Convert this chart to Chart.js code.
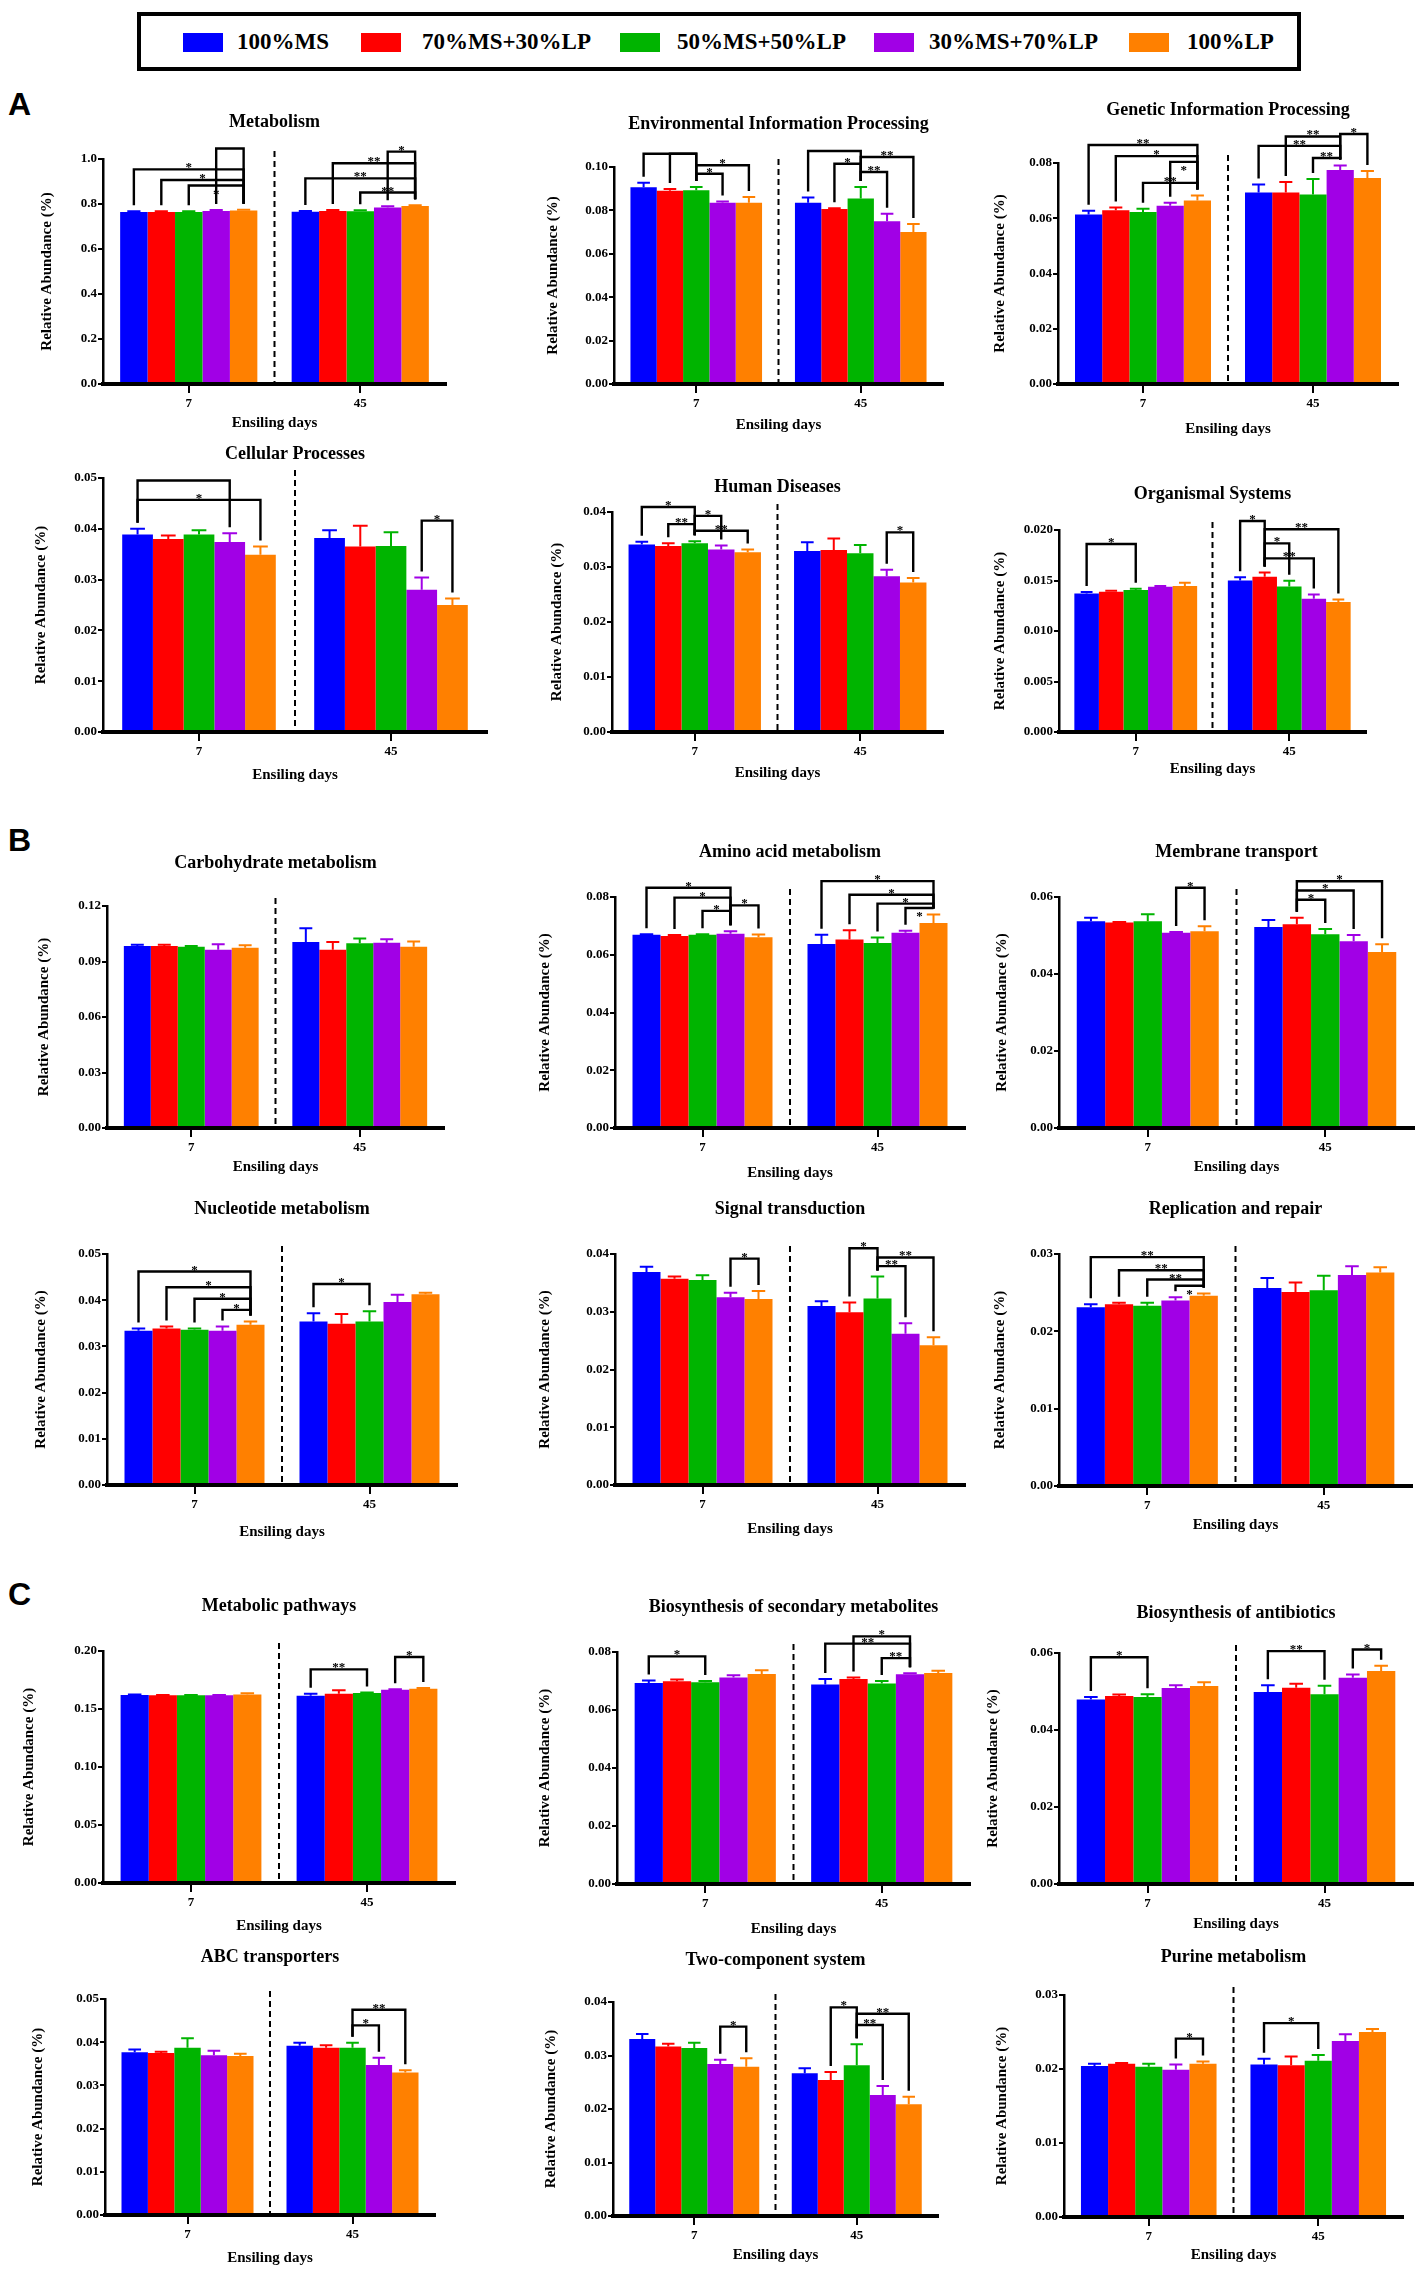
<!DOCTYPE html>
<html>
<head>
<meta charset="utf-8">
<script src="https://cdn.jsdelivr.net/npm/chart.js@4.4.1/dist/chart.umd.min.js"></script>
<style>
  body { margin: 0; width: 1421px; height: 2275px; background: #fff; position: relative; overflow: hidden;
         font-family: "Liberation Serif", "Times New Roman", serif; }
  canvas { position: absolute; }
  #legend { position: absolute; left: 137px; top: 12px; width: 1164px; height: 59px; box-sizing: border-box;
            border: 4px solid #000; }
  #legend div { position: absolute; }
  #legend span { position: absolute; top: 11px; font-weight: bold; font-size: 23px; line-height: 30px; white-space: nowrap; }
  .sec { position: absolute; left: 8px; font-family: "Liberation Sans", Arial, sans-serif; font-weight: bold;
         font-size: 32px; line-height: 32px; }
</style>
</head>
<body>
<div id="legend"></div>
<div class="sec" style="top:88px">A</div>
<div class="sec" style="top:824px">B</div>
<div class="sec" style="top:1578px">C</div>
<script>
// groups and categories
var groups = ['100%MS', '70%MS+30%LP', '50%MS+50%LP', '30%MS+70%LP', '100%LP'];
var colors = ['#0000ff', '#ff0000', '#00b400', '#a100e6', '#ff8000'];
var days = ['7', '45'];

// each panel: mean [day7, day45], SD [day7, day45], significance [day, barA, barB, level, label, labelBelow]
var metabolismMean = [[0.765, 0.765, 0.765, 0.769, 0.771], [0.766, 0.769, 0.768, 0.785, 0.791]];
var metabolismSD = [[0.003, 0.003, 0.003, 0.004, 0.004], [0.003, 0.004, 0.004, 0.005, 0.004]];
var metabolismSig = [[0, 0, 4, 0.954, '*'], [0, 1, 4, 0.907, '*'], [0, 2, 4, 0.882, '*', 1], [0, 3, 4, 1.047, ''],
  [1, 3, 4, 1.033, '*'], [1, 1, 4, 0.981, '**'], [1, 0, 4, 0.914, '**'], [1, 2, 4, 0.851, '**']];
var metabolismTicks = ['0.0', '0.2', '0.4', '0.6', '0.8', '1.0'];

var envMean = [[0.0907, 0.0891, 0.0893, 0.0835, 0.0835], [0.0835, 0.0807, 0.0855, 0.075, 0.0701]];
var envSD = [[0.002, 0.0008, 0.0015, 0.0006, 0.0027], [0.0024, 0.0003, 0.0053, 0.0034, 0.0036]];
var envSig = [[0, 0, 2, 0.1061, ''], [0, 1, 2, 0.1061, ''], [0, 2, 4, 0.1008, '*'], [0, 2, 3, 0.0969, '*'],
  [1, 0, 2, 0.1074, ''], [1, 2, 4, 0.1046, '**'], [1, 1, 2, 0.1015, '*'], [1, 2, 3, 0.0977, '**']];
var envTicks = ['0.00', '0.02', '0.04', '0.06', '0.08', '0.10'];

var geneticMean = [[0.0614, 0.0629, 0.0623, 0.0645, 0.0664], [0.0693, 0.0693, 0.0686, 0.0775, 0.0746]];
var geneticSD = [[0.0013, 0.001, 0.0011, 0.0011, 0.0018], [0.0029, 0.0038, 0.0056, 0.0016, 0.0025]];
var geneticSig = [[0, 0, 4, 0.0865, '**'], [0, 1, 4, 0.0825, '*'], [0, 3, 4, 0.0804, '*', 1], [0, 2, 4, 0.0728, '**'],
  [1, 1, 3, 0.0896, '**'], [1, 3, 4, 0.0905, '*'], [1, 0, 3, 0.0862, '**'], [1, 2, 3, 0.0818, '**']];
var geneticTicks = ['0.00', '0.02', '0.04', '0.06', '0.08'];

var cellularMean = [[0.0389, 0.038, 0.0389, 0.0374, 0.0349], [0.0382, 0.0365, 0.0366, 0.028, 0.025]];
var cellularSD = [[0.0011, 0.0007, 0.0008, 0.0017, 0.0016], [0.0015, 0.0041, 0.0027, 0.0024, 0.0013]];
var cellularSig = [[0, 0, 3, 0.0495, ''], [0, 0, 4, 0.0457, '*'], [1, 3, 4, 0.0416, '*']];
var cellularTicks = ['0.00', '0.01', '0.02', '0.03', '0.04', '0.05'];

var humanMean = [[0.0341, 0.0338, 0.0343, 0.0332, 0.0327], [0.0329, 0.0331, 0.0325, 0.0283, 0.0272]];
var humanSD = [[0.0005, 0.0005, 0.0004, 0.0007, 0.0005], [0.0016, 0.0021, 0.0015, 0.0012, 0.0008]];
var humanSig = [[0, 0, 2, 0.0409, '*'], [0, 2, 3, 0.0393, '*'], [0, 1, 2, 0.0378, '**'], [0, 2, 4, 0.0366, '**'],
  [1, 3, 4, 0.0363, '*']];
var humanTicks = ['0.00', '0.01', '0.02', '0.03', '0.04'];

var organismalMean = [[0.01372, 0.01388, 0.01405, 0.01438, 0.01445], [0.01501, 0.01537, 0.01441, 0.01319, 0.01286]];
var organismalSD = [[0.00013, 0.0001, 0.00013, 0.00007, 0.00033], [0.0003, 0.00043, 0.00057, 0.00043, 0.00026]];
var organismalSig = [[0, 0, 2, 0.01861, '*'], [1, 0, 1, 0.02089, '*'], [1, 1, 4, 0.02007, '**'],
  [1, 1, 2, 0.01868, '*'], [1, 1, 3, 0.01719, '**']];
var organismalTicks = ['0.000', '0.005', '0.010', '0.015', '0.020'];

var carbohydrateMean = [[0.0984, 0.0984, 0.098, 0.0963, 0.0975], [0.1006, 0.0963, 0.0999, 0.1002, 0.098]];
var carbohydrateSD = [[0.0006, 0.0006, 0.0004, 0.003, 0.0013], [0.0074, 0.0043, 0.0025, 0.0018, 0.0028]];
var carbohydrateSig = [];
var carbohydrateTicks = ['0.00', '0.03', '0.06', '0.09', '0.12'];

var aminoMean = [[0.0669, 0.0665, 0.0669, 0.0673, 0.0661], [0.0637, 0.0653, 0.0641, 0.0676, 0.071]];
var aminoSD = [[0.0002, 0.0003, 0.0002, 0.0008, 0.0009], [0.0032, 0.0032, 0.0019, 0.0007, 0.0029]];
var aminoSig = [[0, 0, 3, 0.0832, '*'], [0, 1, 3, 0.0798, '*'], [0, 3, 4, 0.0771, '*'], [0, 2, 3, 0.0752, '*'],
  [1, 0, 4, 0.0855, '*'], [1, 1, 4, 0.0808, '*'], [1, 2, 4, 0.0777, '*'], [1, 3, 4, 0.0762, '*', 1]];
var aminoTicks = ['0.00', '0.02', '0.04', '0.06', '0.08'];

var membraneMean = [[0.0537, 0.0534, 0.0537, 0.0507, 0.0511], [0.0522, 0.0529, 0.0503, 0.0485, 0.0457]];
var membraneSD = [[0.0009, 0.0001, 0.0018, 0.0002, 0.0013], [0.0018, 0.0017, 0.0014, 0.0016, 0.002]];
var membraneSig = [[0, 3, 4, 0.0624, '*'], [1, 1, 4, 0.0641, '*'], [1, 1, 3, 0.0617, '*'], [1, 1, 2, 0.0593, '*']];
var membraneTicks = ['0.00', '0.02', '0.04', '0.06'];

var nucleotideMean = [[0.0334, 0.0339, 0.0336, 0.0334, 0.0347], [0.0354, 0.0349, 0.0354, 0.0396, 0.0413]];
var nucleotideSD = [[0.0005, 0.0004, 0.0003, 0.0009, 0.0007], [0.0018, 0.0021, 0.0022, 0.0016, 0.0003]];
var nucleotideSig = [[0, 0, 4, 0.0462, '*'], [0, 1, 4, 0.0428, '*'], [0, 2, 4, 0.0403, '*'], [0, 3, 4, 0.0379, '*'],
  [1, 0, 2, 0.0435, '*']];
var nucleotideTicks = ['0.00', '0.01', '0.02', '0.03', '0.04', '0.05'];

var signalMean = [[0.0369, 0.0357, 0.0355, 0.0325, 0.0322], [0.031, 0.0299, 0.0323, 0.0262, 0.0242]];
var signalSD = [[0.0009, 0.0004, 0.0008, 0.0008, 0.0014], [0.0008, 0.0017, 0.0038, 0.0018, 0.0014]];
var signalSig = [[0, 3, 4, 0.0392, '*'], [1, 1, 2, 0.041, '*'], [1, 2, 4, 0.0394, '**'], [1, 2, 3, 0.0379, '**']];
var signalTicks = ['0.00', '0.01', '0.02', '0.03', '0.04'];

var replicationMean = [[0.0231, 0.0235, 0.0233, 0.024, 0.0246], [0.0256, 0.0251, 0.0253, 0.0273, 0.0276]];
var replicationSD = [[0.0004, 0.0002, 0.0004, 0.0004, 0.0003], [0.0013, 0.0012, 0.0019, 0.0011, 0.0007]];
var replicationSig = [[0, 0, 4, 0.0296, '**'], [0, 1, 4, 0.0279, '**'], [0, 2, 4, 0.0267, '**'], [0, 3, 4, 0.0259, '*', 1]];
var replicationTicks = ['0.00', '0.01', '0.02', '0.03'];

var pathwaysMean = [[0.1621, 0.1618, 0.1618, 0.1618, 0.1624], [0.1615, 0.1632, 0.1638, 0.1667, 0.1675]];
var pathwaysSD = [[0.0005, 0.0003, 0.0003, 0.0003, 0.0011], [0.0017, 0.0029, 0.0005, 0.0004, 0.0006]];
var pathwaysSig = [[1, 0, 2, 0.1842, '**'], [1, 3, 4, 0.1948, '*']];
var pathwaysTicks = ['0.00', '0.05', '0.10', '0.15', '0.20'];

var secondaryMean = [[0.0693, 0.0699, 0.0696, 0.0712, 0.0724], [0.0688, 0.0707, 0.0691, 0.0723, 0.0728]];
var secondarySD = [[0.0009, 0.0006, 0.0004, 0.0008, 0.0013], [0.0019, 0.0005, 0.0009, 0.0004, 0.0007]];
var secondarySig = [[0, 0, 2, 0.0785, '*'], [1, 1, 3, 0.0854, '*'], [1, 0, 3, 0.0829, '**'], [1, 2, 3, 0.0779, '**']];
var secondaryTicks = ['0.00', '0.02', '0.04', '0.06', '0.08'];

var antibioticsMean = [[0.0479, 0.0488, 0.0486, 0.0509, 0.0514], [0.0499, 0.051, 0.0493, 0.0536, 0.0553]];
var antibioticsSD = [[0.0007, 0.0004, 0.0007, 0.0007, 0.001], [0.0017, 0.001, 0.0022, 0.0008, 0.0014]];
var antibioticsSig = [[0, 0, 2, 0.0589, '*'], [1, 0, 2, 0.0605, '**'], [1, 3, 4, 0.0609, '*']];
var antibioticsTicks = ['0.00', '0.02', '0.04', '0.06'];

var abcMean = [[0.0377, 0.0375, 0.0387, 0.037, 0.0368], [0.0392, 0.0387, 0.0387, 0.0347, 0.033]];
var abcSD = [[0.0006, 0.0003, 0.0022, 0.001, 0.0005], [0.0007, 0.0006, 0.0012, 0.0017, 0.0005]];
var abcSig = [[1, 2, 4, 0.0475, '**'], [1, 2, 3, 0.0439, '*']];
var abcTicks = ['0.00', '0.01', '0.02', '0.03', '0.04', '0.05'];

var twoCompMean = [[0.0331, 0.0317, 0.0314, 0.0284, 0.0279], [0.0267, 0.0254, 0.0282, 0.0226, 0.0209]];
var twoCompSD = [[0.0009, 0.0005, 0.001, 0.0008, 0.0016], [0.0009, 0.0015, 0.0039, 0.0017, 0.0014]];
var twoCompSig = [[0, 3, 4, 0.0354, '*'], [1, 1, 2, 0.039, '*'], [1, 2, 4, 0.0378, '**'], [1, 2, 3, 0.0357, '**']];
var twoCompTicks = ['0.00', '0.01', '0.02', '0.03', '0.04'];

var purineMean = [[0.0204, 0.0207, 0.0203, 0.0199, 0.0207], [0.0206, 0.0205, 0.0211, 0.0238, 0.025]];
var purineSD = [[0.0003, 0.0001, 0.0004, 0.0007, 0.0003], [0.0008, 0.0012, 0.0008, 0.0009, 0.0004]];
var purineSig = [[0, 3, 4, 0.0241, '*'], [1, 0, 2, 0.0262, '*']];
var purineTicks = ['0.00', '0.01', '0.02', '0.03'];

var panels = [
  ['Metabolism', metabolismMean, metabolismSD, metabolismSig, metabolismTicks],
  ['Environmental Information Processing', envMean, envSD, envSig, envTicks],
  ['Genetic Information Processing', geneticMean, geneticSD, geneticSig, geneticTicks],
  ['Cellular Processes', cellularMean, cellularSD, cellularSig, cellularTicks],
  ['Human Diseases', humanMean, humanSD, humanSig, humanTicks],
  ['Organismal Systems', organismalMean, organismalSD, organismalSig, organismalTicks],
  ['Carbohydrate metabolism', carbohydrateMean, carbohydrateSD, carbohydrateSig, carbohydrateTicks],
  ['Amino acid metabolism', aminoMean, aminoSD, aminoSig, aminoTicks],
  ['Membrane transport', membraneMean, membraneSD, membraneSig, membraneTicks],
  ['Nucleotide metabolism', nucleotideMean, nucleotideSD, nucleotideSig, nucleotideTicks],
  ['Signal transduction', signalMean, signalSD, signalSig, signalTicks],
  ['Replication and repair', replicationMean, replicationSD, replicationSig, replicationTicks],
  ['Metabolic pathways', pathwaysMean, pathwaysSD, pathwaysSig, pathwaysTicks],
  ['Biosynthesis of secondary metabolites', secondaryMean, secondarySD, secondarySig, secondaryTicks],
  ['Biosynthesis of antibiotics', antibioticsMean, antibioticsSD, antibioticsSig, antibioticsTicks],
  ['ABC transporters', abcMean, abcSD, abcSig, abcTicks],
  ['Two-component system', twoCompMean, twoCompSD, twoCompSig, twoCompTicks],
  ['Purine metabolism', purineMean, purineSD, purineSig, purineTicks]
];

// page layout of each plot area: left, top, right, bottom, title y, x-title y, y-title x
var boxes = [
  [103, 159, 446, 384, 122, 423, 47], [614, 167, 943, 384, 124, 425, 553], [1058, 163, 1398, 384, 110, 429, 1000],
  [103, 478, 487, 732, 454, 775, 41], [612, 512, 943, 732, 487, 773, 557], [1059, 530, 1366, 732, 494, 769, 1000],
  [107, 906, 444, 1128, 863, 1167, 44], [615, 897, 965, 1128, 852, 1173, 545], [1059, 897, 1414, 1128, 852, 1167, 1002],
  [107, 1254, 457, 1485, 1209, 1532, 41], [615, 1254, 965, 1485, 1209, 1529, 545], [1059, 1254, 1412, 1486, 1209, 1525, 1000],
  [103, 1651, 455, 1883, 1606, 1926, 29], [617, 1652, 970, 1884, 1607, 1929, 545], [1059, 1653, 1413, 1884, 1613, 1924, 993],
  [105, 1999, 435, 2215, 1957, 2258, 38], [613, 2002, 938, 2216, 1960, 2255, 551], [1064, 1995, 1403, 2217, 1957, 2255, 1002]
];

var legendSwatchX = [42, 220, 479, 733, 988];
var legendTextX = [96, 281, 536, 788, 1046];
var legend = document.getElementById('legend');
groups.forEach(function (g, i) {
  var sw = document.createElement('div');
  sw.style.cssText = 'left:' + legendSwatchX[i] + 'px;top:17px;width:40px;height:19px;background:' + colors[i];
  legend.appendChild(sw);
  var t = document.createElement('span');
  t.style.left = legendTextX[i] + 'px';
  t.textContent = g;
  legend.appendChild(t);
});

var serif = '"Liberation Serif", "Times New Roman", serif';
Chart.defaults.font.family = serif;
Chart.defaults.color = '#000';

var extras = {
  id: 'extras',
  afterDatasetsDraw: function (chart) {
    var o = chart.options.plugins.extras;
    var ctx = chart.ctx, x = chart.scales.x, y = chart.scales.y, area = chart.chartArea;
    var ds = chart.data.datasets;
    function topOf(i, d) {
      return y.getPixelForValue(ds[i].data[d] + ds[i].sd[d]);
    }
    ctx.save();
    ds.forEach(function (set, i) {
      chart.getDatasetMeta(i).data.forEach(function (bar, d) {
        var t = topOf(i, d), half = bar.width * 0.24;
        ctx.strokeStyle = set.backgroundColor;
        ctx.lineWidth = 2;
        ctx.beginPath();
        ctx.moveTo(bar.x, bar.y);
        ctx.lineTo(bar.x, t);
        ctx.moveTo(bar.x - half, t);
        ctx.lineTo(bar.x + half, t);
        ctx.stroke();
      });
    });
    var sx = (x.getPixelForValue(0) + x.getPixelForValue(1)) / 2;
    ctx.strokeStyle = '#000';
    ctx.lineWidth = 2;
    ctx.setLineDash([6, 4]);
    ctx.beginPath();
    ctx.moveTo(sx, area.top - 8);
    ctx.lineTo(sx, area.bottom);
    ctx.stroke();
    ctx.setLineDash([]);
    ctx.lineWidth = 2.4;
    ctx.font = 'bold 13px ' + serif;
    ctx.textAlign = 'center';
    ctx.textBaseline = 'alphabetic';
    ctx.fillStyle = '#000';
    o.sig.forEach(function (s) {
      var a = chart.getDatasetMeta(s[1]).data[s[0]], b = chart.getDatasetMeta(s[2]).data[s[0]];
      var yl = y.getPixelForValue(s[3]);
      ctx.beginPath();
      ctx.moveTo(a.x, topOf(s[1], s[0]) - 6);
      ctx.lineTo(a.x, yl);
      ctx.lineTo(b.x, yl);
      ctx.lineTo(b.x, topOf(s[2], s[0]) - 6);
      ctx.stroke();
      if (s[4]) ctx.fillText(s[4], (a.x + b.x) / 2, s[5] ? yl + 12 : yl + 2);
    });
    ctx.restore();
  },
  afterDraw: function (chart) {
    var o = chart.options.plugins.extras;
    var ctx = chart.ctx, area = chart.chartArea;
    var cx = (area.left + area.right) / 2;
    ctx.save();
    ctx.fillStyle = '#000';
    ctx.textAlign = 'center';
    ctx.textBaseline = 'middle';
    ctx.font = 'bold 18px ' + serif;
    ctx.fillText(o.title, cx, o.titleY);
    ctx.font = 'bold 15px ' + serif;
    ctx.fillText('Ensiling days', cx, o.xTitleY);
    ctx.translate(o.yTitleX, (area.top + area.bottom) / 2);
    ctx.rotate(-Math.PI / 2);
    ctx.fillText('Relative Abundance (%)', 0, 0);
    ctx.restore();
  }
};

panels.forEach(function (p, k) {
  var b = boxes[k];
  var cl = b[6] - 14, ct = b[4] - 16;
  var cr = Math.min(1421, b[2] + 10), cb = b[5] + 14;
  var canvas = document.createElement('canvas');
  canvas.width = cr - cl;
  canvas.height = cb - ct;
  canvas.style.left = cl + 'px';
  canvas.style.top = ct + 'px';
  document.body.appendChild(canvas);

  var tickVals = p[4].map(parseFloat);
  var yWidth = 46, xHeight = 28;
  var target = { left: b[0] - cl, top: b[1] - ct, right: b[2] - cl, bottom: b[3] - ct };

  var chart = new Chart(canvas, {
    type: 'bar',
    data: {
      labels: days,
      datasets: groups.map(function (g, i) {
        return {
          label: g,
          data: [p[1][0][i], p[1][1][i]],
          sd: [p[2][0][i], p[2][1][i]],
          backgroundColor: colors[i],
          borderWidth: 0,
          categoryPercentage: 0.8,
          barPercentage: 1.0
        };
      })
    },
    options: {
      responsive: false,
      animation: false,
      events: [],
      layout: {
        padding: {
          left: target.left - yWidth,
          top: target.top,
          right: canvas.width - target.right,
          bottom: canvas.height - target.bottom - xHeight
        }
      },
      plugins: {
        legend: { display: false },
        tooltip: { enabled: false },
        extras: {
          title: p[0],
          sig: p[3],
          titleY: b[4] - ct,
          xTitleY: b[5] - ct,
          yTitleX: b[6] - cl
        }
      },
      scales: {
        x: {
          afterFit: function (s) { s.height = xHeight; },
          grid: { display: true, drawOnChartArea: false, offset: false, tickLength: 9, lineWidth: 2, color: '#000' },
          border: { display: true, color: '#000', width: 4, z: 1 },
          ticks: { font: { size: 13, weight: 'bold' }, padding: 3, maxRotation: 0 }
        },
        y: {
          min: 0,
          max: tickVals[tickVals.length - 1],
          afterFit: function (s) { s.width = yWidth; },
          afterBuildTicks: function (s) {
            s.ticks = tickVals.map(function (v) { return { value: v }; });
          },
          grid: { display: true, drawOnChartArea: false, tickLength: 5, lineWidth: 2, color: '#000' },
          border: { display: true, color: '#000', width: 2.5, z: 1 },
          ticks: {
            font: { size: 13, weight: 'bold' },
            padding: 1,
            callback: function (v, i) { return p[4][i]; }
          }
        }
      }
    },
    plugins: [extras]
  });

  // nudge padding so the plot area sits exactly on the target box
  var ca = chart.chartArea, pad = chart.options.layout.padding;
  var dl = target.left - ca.left, dt = target.top - ca.top;
  var dr = ca.right - target.right, db = ca.bottom - target.bottom;
  if (dl || dt || dr || db) {
    pad.left += dl; pad.top += dt; pad.right += dr; pad.bottom += db;
    chart.update('none');
  }
});
</script>
</body>
</html>
